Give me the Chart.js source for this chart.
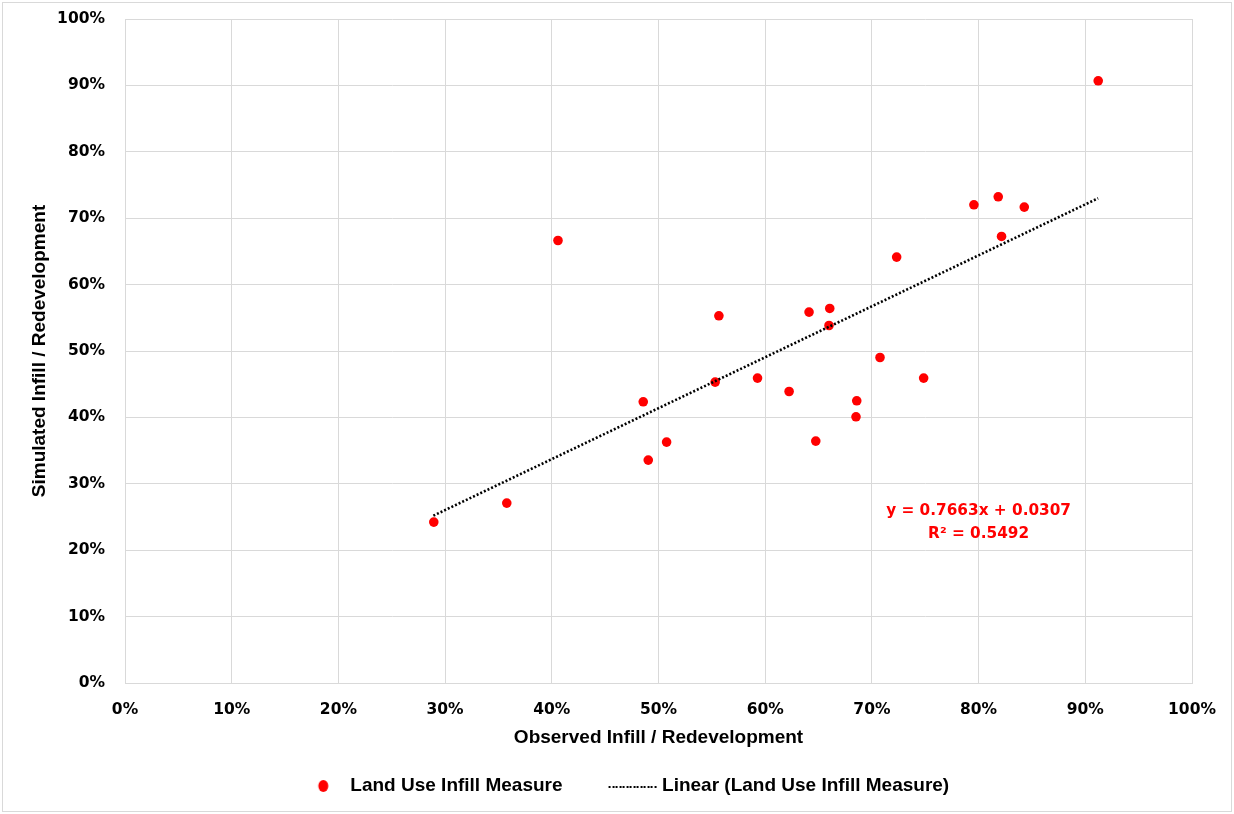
<!DOCTYPE html>
<html>
<head>
<meta charset="utf-8">
<title>Land Use Infill Measure</title>
<script src="https://cdn.jsdelivr.net/npm/chart.js@4.4.1/dist/chart.umd.min.js"></script>
<style>
    body { margin: 0; background: #fff; }
    canvas { display: block; }
</style>
</head>
<body>
<canvas id="infillChart" width="1234" height="814"></canvas>
<script>
// Observed vs simulated infill share (one point per area)
var observed = [0.2894, 0.3578, 0.4058, 0.4857, 0.4904, 0.5076, 0.5566, 0.5531,
    0.5928, 0.6224, 0.6411, 0.6474, 0.6605, 0.6598, 0.6858, 0.6851,
    0.7076, 0.7232, 0.7485, 0.7956, 0.8184, 0.8215, 0.8428, 0.9121];
var simulated = [0.2423, 0.2709, 0.6664, 0.4235, 0.3357, 0.3628, 0.5530, 0.4532,
    0.4592, 0.4390, 0.5586, 0.3643, 0.5641, 0.5384, 0.4250, 0.4009,
    0.4902, 0.6414, 0.4592, 0.7202, 0.7322, 0.6725, 0.7167, 0.9069];

// Excel linear trendline, drawn across the observed range
var trendX = [0.289, 0.912];
var trendY = [0.252, 0.730];
var trendLabel = ['y = 0.7663x + 0.0307', 'R\u00b2 = 0.5492'];

var tickLabels = ['0%', '10%', '20%', '30%', '40%', '50%', '60%', '70%', '80%', '90%', '100%'];
var seriesNames = ['Land Use Infill Measure', 'Linear (Land Use Infill Measure)'];

var pointData = observed.map(function (x, i) { return { x: x, y: simulated[i] }; });
var trendData = trendX.map(function (x, i) { return { x: x, y: trendY[i] }; });

var gridColor = '#d9d9d9';
var tickFont = { family: 'DejaVu Sans', size: 15.5, weight: 'bold' };
var titleFont = { family: 'Liberation Sans', size: 19, weight: 'bold' };

// legend icons (red dot, dotted line) drawn on small canvases
function legendDot() {
    var c = document.createElement('canvas');
    c.width = 90; c.height = 14;
    var g = c.getContext('2d');
    g.fillStyle = '#ff0000';
    g.beginPath();
    g.ellipse(62.5, 7, 5, 6, 0, 0, Math.PI * 2);
    g.fill();
    return c;
}
function legendLine() {
    var c = document.createElement('canvas');
    c.width = 90; c.height = 14;
    var g = c.getContext('2d');
    g.fillStyle = '#000';
    // little square dots, like Excel's round-dot dash
    for (var x = 36; x < 83; x += 3.5) {
        g.fillRect(Math.round(x), 7, 2, 2);
    }
    return c;
}
var legendIcons = [legendDot(), legendLine()];

// white background + thin frame like the Excel chart area
var framePlugin = {
    id: 'frame',
    beforeDraw: function (chart) {
        var ctx = chart.ctx;
        ctx.save();
        ctx.fillStyle = '#fff';
        ctx.fillRect(0, 0, chart.width, chart.height);
        ctx.strokeStyle = gridColor;
        ctx.lineWidth = 1;
        ctx.strokeRect(2.5, 2.5, chart.width - 5, chart.height - 5);
        ctx.restore();
    }
};

// trendline equation text
var equationPlugin = {
    id: 'equation',
    afterDatasetsDraw: function (chart) {
        var ctx = chart.ctx;
        var px = chart.scales.x.getPixelForValue(0.80);
        var py = chart.scales.y.getPixelForValue(0.259);
        ctx.save();
        ctx.fillStyle = '#ff0000';
        ctx.font = 'bold 15.3px "DejaVu Sans"';
        ctx.textAlign = 'center';
        ctx.textBaseline = 'middle';
        ctx.fillText(trendLabel[0], px, py);
        ctx.fillText(trendLabel[1], px, py + 23);
        ctx.restore();
    }
};

var ctx = document.getElementById('infillChart').getContext('2d');
var infillChart = new Chart(ctx, {
    type: 'scatter',
    data: {
        datasets: [{
            label: seriesNames[0],
            data: pointData,
            backgroundColor: '#ff0000',
            borderColor: '#ff0000',
            pointRadius: 4.8,
            pointBorderWidth: 0,
            order: 1
        }, {
            label: seriesNames[1],
            data: trendData,
            showLine: true,
            borderColor: '#000',
            borderWidth: 2.6,
            borderDash: [2, 2],
            pointRadius: 0,
            order: 0
        }]
    },
    options: {
        responsive: false,
        animation: false,
        layout: {
            padding: { top: 19, right: 42, left: 28, bottom: 8.5 }
        },
        scales: {
            x: {
                type: 'linear',
                min: 0,
                max: 1,
                afterFit: function (scale) { scale.height = 73.5; },
                ticks: {
                    stepSize: 0.1,
                    padding: 18,
                    color: '#000',
                    font: tickFont,
                    callback: function (value, index) { return tickLabels[index]; }
                },
                grid: { color: gridColor, drawTicks: false },
                border: { color: gridColor },
                title: {
                    display: true,
                    text: 'Observed Infill / Redevelopment',
                    color: '#000',
                    font: titleFont,
                    padding: { top: 0, bottom: 7 }
                }
            },
            y: {
                min: 0,
                max: 1,
                afterFit: function (scale) {
                    scale.width = 97;
                    // tick padding would otherwise push the plot down
                    scale.paddingTop = 0;
                    scale.paddingBottom = 0;
                },
                ticks: {
                    stepSize: 0.1,
                    padding: 20,
                    color: '#000',
                    font: tickFont,
                    callback: function (value, index) { return tickLabels[index]; }
                },
                grid: { color: gridColor, drawTicks: false },
                border: { color: gridColor },
                title: {
                    display: true,
                    text: 'Simulated Infill / Redevelopment',
                    color: '#000',
                    font: titleFont,
                    padding: { top: 0.6, bottom: 0 }
                }
            }
        },
        plugins: {
            tooltip: { enabled: false },
            legend: {
                position: 'bottom',
                labels: {
                    usePointStyle: true,
                    pointStyleWidth: 70,
                    padding: 20,
                    color: '#000',
                    font: titleFont,
                    sort: function (a, b) { return a.datasetIndex - b.datasetIndex; },
                    generateLabels: function (chart) {
                        var items = Chart.defaults.plugins.legend.labels.generateLabels(chart);
                        items.forEach(function (item) {
                            item.pointStyle = legendIcons[item.datasetIndex];
                        });
                        return items;
                    }
                }
            }
        }
    },
    plugins: [framePlugin, equationPlugin]
});
</script>
</body>
</html>
